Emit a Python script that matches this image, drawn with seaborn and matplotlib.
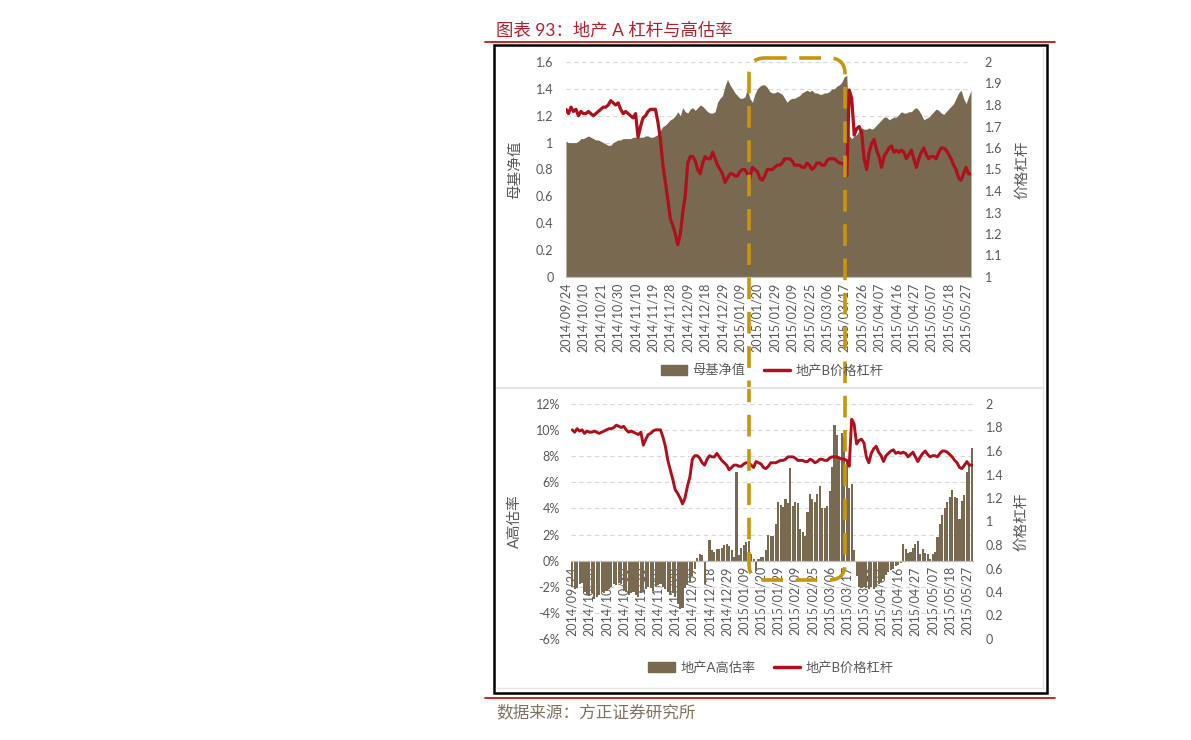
import pandas as pd
import seaborn as sns
import matplotlib.pyplot as plt
from matplotlib.patches import FancyBboxPatch, Rectangle, Patch
from matplotlib.lines import Line2D

# category labels (every 7th trading day is labelled)
date_labels = ['2014/09/24', '2014/10/10', '2014/10/21', '2014/10/30', '2014/11/10', '2014/11/19',
               '2014/11/28', '2014/12/09', '2014/12/18', '2014/12/29', '2015/01/09', '2015/01/20',
               '2015/01/29', '2015/02/09', '2015/02/25', '2015/03/06', '2015/03/17', '2015/03/26',
               '2015/04/07', '2015/04/16', '2015/04/27', '2015/05/07', '2015/05/18', '2015/05/27']
label_step = 7

# 母基净值
nav = [1.01, 1.00, 1.00, 1.00, 1.00, 1.01, 1.03, 1.03, 1.04, 1.05,
       1.04, 1.03, 1.02, 1.02, 1.01, 1.00, 0.99, 0.98, 0.98, 1.00,
       1.01, 1.02, 1.02, 1.03, 1.03, 1.03, 1.03, 1.04, 1.04, 1.04,
       1.04, 1.04, 1.05, 1.05, 1.04, 1.04, 1.05, 1.06, 1.09, 1.12,
       1.13, 1.15, 1.17, 1.18, 1.20, 1.23, 1.20, 1.26, 1.23, 1.22,
       1.25, 1.26, 1.24, 1.26, 1.28, 1.27, 1.25, 1.23, 1.22, 1.22,
       1.23, 1.30, 1.33, 1.35, 1.42, 1.47, 1.43, 1.40, 1.37, 1.35,
       1.33, 1.33, 1.34, 1.40, 1.33, 1.30, 1.36, 1.40, 1.42, 1.43,
       1.43, 1.41, 1.38, 1.37, 1.37, 1.38, 1.37, 1.36, 1.33, 1.30,
       1.32, 1.33, 1.33, 1.34, 1.35, 1.37, 1.38, 1.39, 1.38, 1.39,
       1.37, 1.37, 1.36, 1.36, 1.37, 1.37, 1.38, 1.40, 1.40, 1.42,
       1.43, 1.45, 1.49, 1.50, 1.05, 1.03, 1.05, 1.06, 1.09, 1.11,
       1.10, 1.10, 1.11, 1.10, 1.11, 1.13, 1.15, 1.17, 1.19, 1.19,
       1.17, 1.18, 1.19, 1.19, 1.21, 1.23, 1.22, 1.22, 1.23, 1.23,
       1.25, 1.26, 1.24, 1.21, 1.17, 1.18, 1.19, 1.21, 1.23, 1.25,
       1.24, 1.22, 1.21, 1.23, 1.25, 1.27, 1.29, 1.33, 1.37, 1.39,
       1.33, 1.29, 1.34, 1.39]

# 地产B价格杠杆
lev_b = [1.78, 1.76, 1.79, 1.77, 1.78, 1.75, 1.77, 1.76, 1.76, 1.77,
         1.76, 1.75, 1.76, 1.77, 1.78, 1.79, 1.79, 1.80, 1.82, 1.81,
         1.80, 1.81, 1.78, 1.76, 1.77, 1.76, 1.75, 1.74, 1.76, 1.65,
         1.70, 1.74, 1.75, 1.77, 1.78, 1.78, 1.78, 1.72, 1.64, 1.52,
         1.44, 1.36, 1.27, 1.24, 1.20, 1.15, 1.20, 1.30, 1.38, 1.53,
         1.56, 1.56, 1.54, 1.50, 1.48, 1.53, 1.56, 1.55, 1.55, 1.58,
         1.55, 1.52, 1.50, 1.48, 1.44, 1.46, 1.48, 1.48, 1.47, 1.47,
         1.49, 1.50, 1.50, 1.48, 1.46, 1.51, 1.50, 1.49, 1.46, 1.45,
         1.47, 1.50, 1.50, 1.50, 1.51, 1.52, 1.52, 1.53, 1.55, 1.55,
         1.55, 1.54, 1.52, 1.52, 1.52, 1.51, 1.51, 1.53, 1.52, 1.50,
         1.51, 1.53, 1.53, 1.52, 1.52, 1.54, 1.55, 1.55, 1.55, 1.54,
         1.53, 1.53, 1.52, 1.47, 1.87, 1.83, 1.66, 1.69, 1.70, 1.67,
         1.55, 1.50, 1.58, 1.62, 1.64, 1.59, 1.56, 1.51, 1.56, 1.58,
         1.60, 1.61, 1.58, 1.59, 1.58, 1.59, 1.58, 1.55, 1.57, 1.59,
         1.55, 1.51, 1.55, 1.58, 1.60, 1.57, 1.55, 1.56, 1.56, 1.55,
         1.58, 1.60, 1.60, 1.59, 1.57, 1.55, 1.52, 1.50, 1.46, 1.45,
         1.48, 1.51, 1.48, 1.48]

# 地产A高估率 (%)
a_rate = [-2.0, -2.2, -2.1, -1.8, -1.7, -2.4, -2.6, -2.7, -2.5, -2.9,
          -2.8, -2.6, -2.4, -2.5, -2.3, -2.2, -2.0, -1.8, -1.9, -1.7,
          -1.8, -2.3, -2.4, -2.6, -2.5, -2.4, -2.6, -2.8, -2.5, -2.4,
          -2.2, -2.0, -2.1, -2.3, -2.0, -1.9, -1.8, -2.0, -2.2, -2.4,
          -2.6, -2.5, -2.8, -3.3, -3.7, -3.6, -2.1, -1.9, -1.6, -1.2,
          -0.6, 0.2, 0.5, 0.4, -1.8, 0.0, 1.6, 0.8, 0.7, 0.9,
          0.9, 1.0, 1.2, 1.3, 1.1, 0.8, 0.3, 6.8, 0.4, 1.0,
          1.2, 1.4, 1.5, 0.5, 0.1, -0.8, 0.1, 0.3, 0.3, 0.8,
          2.0, 1.9, 1.9, 2.8, 4.5, 4.3, 4.1, 4.7, 4.4, 7.1,
          4.2, 4.5, 4.4, 2.4, 2.2, 1.9, 3.7, 5.1, 4.7, 4.5,
          5.1, 5.7, 4.0, 4.0, 4.2, 5.3, 7.2, 10.4, 9.6, 7.8,
          9.8, 9.5, 7.6, 5.6, 5.9, 0.8, -1.2, -2.0, -2.1, -2.0,
          -2.1, -2.2, -2.0, -2.2, -2.0, -1.8, -1.6, -1.4, -1.1, -0.9,
          -0.7, -0.6, -0.4, -0.3, -0.2, 1.3, 0.9, 0.6, 0.7, 1.0,
          1.3, 1.5, 0.5, 0.9, 0.6, 0.5, 0.1, 0.5, 0.7, 1.8,
          2.8, 3.5, 4.0, 4.5, 4.9, 5.4, 4.9, 4.8, 3.2, 4.6,
          5.0, 6.8, 7.3, 8.6]

top_left_ticks = [0, 0.2, 0.4, 0.6, 0.8, 1, 1.2, 1.4, 1.6]
top_left_labels = ['0', '0.2', '0.4', '0.6', '0.8', '1', '1.2', '1.4', '1.6']
top_right_ticks = [1, 1.1, 1.2, 1.3, 1.4, 1.5, 1.6, 1.7, 1.8, 1.9, 2]
top_right_labels = ['1', '1.1', '1.2', '1.3', '1.4', '1.5', '1.6', '1.7', '1.8', '1.9', '2']
bot_left_ticks = [-6, -4, -2, 0, 2, 4, 6, 8, 10, 12]
bot_left_labels = ['-6%', '-4%', '-2%', '0%', '2%', '4%', '6%', '8%', '10%', '12%']
bot_right_ticks = [0, 0.2, 0.4, 0.6, 0.8, 1, 1.2, 1.4, 1.6, 1.8, 2]
bot_right_labels = ['0', '0.2', '0.4', '0.6', '0.8', '1', '1.2', '1.4', '1.6', '1.8', '2']

BROWN = '#786950'
RED = '#B0101C'
GOLD = '#C8960C'
GREY = '#595959'
GRID = '#D9D9D9'

sns.set_theme(style='white')
plt.rcParams['font.family'] = ['Lato', 'Noto Sans CJK SC', 'DejaVu Sans']
plt.rcParams['axes.unicode_minus'] = False

df = pd.DataFrame({'idx': range(len(nav)), 'nav': nav, 'lev': lev_b, 'arate': a_rate})
n = len(df)
tick_pos = list(range(0, n, label_step))[:len(date_labels)]

W, H = 1191, 740
fig = plt.figure(figsize=(W / 100, H / 100), dpi=100)


def style_axes(ax, ax_r, pad_l, pad_r):
    for a in (ax, ax_r):
        for s in a.spines.values():
            s.set_visible(False)
    ax.spines['bottom'].set_visible(True)
    ax.spines['bottom'].set_color('#BFBFBF')
    ax.spines['bottom'].set_linewidth(0.9)
    ax.tick_params(axis='y', length=0, labelsize=9, labelcolor=GREY, pad=pad_l)
    ax.tick_params(axis='x', length=0, labelsize=9, labelcolor=GREY, pad=4, rotation=90)
    ax_r.tick_params(axis='y', length=0, labelsize=9, labelcolor=GREY, pad=pad_r)
    ax.set_axisbelow(True)
    ax.yaxis.grid(True, linestyle=(0, (4, 3)), color=GRID, linewidth=0.8)
    ax.xaxis.grid(False)
    ax_r.grid(False)
    ax.set_xlabel('')
    ax_r.set_xlabel('')


# top chart: fund NAV area + B leverage line
ax1 = fig.add_axes([566 / W, 1 - 277 / H, 405 / W, 215 / H])
ax1.fill_between(df['idx'], df['nav'], 0, color=BROWN, linewidth=0, zorder=2)
ax1.set_ylim(0, 1.6)
ax1.set_yticks(top_left_ticks, top_left_labels)
ax1r = ax1.twinx()
sns.lineplot(data=df, x='idx', y='lev', ax=ax1r, color=RED, linewidth=2.3)
ax1r.set_ylim(1, 2)
ax1r.set_yticks(top_right_ticks, top_right_labels)
ax1.set_xlim(0, n - 1)
ax1.set_xticks(tick_pos, date_labels)
style_axes(ax1, ax1r, 9, 10)
ax1.set_ylabel('母基净值', fontsize=10.5, color=GREY)
ax1.yaxis.set_label_coords(-0.109, 0.5)
ax1r.set_ylabel('价格杠杆', fontsize=10.5, color=GREY, rotation=90)
ax1r.yaxis.set_label_coords(1.109, 0.5)

# bottom chart: A over-valuation bars + B leverage line
ax2 = fig.add_axes([571 / W, 1 - 639 / H, 402 / W, 235 / H])
sns.barplot(data=df, x='idx', y='arate', ax=ax2, color=BROWN, saturation=1,
            width=0.86, linewidth=0, zorder=2)
ax2.set_ylim(-6, 12)
ax2.set_yticks(bot_left_ticks, bot_left_labels)
ax2r = ax2.twinx()
sns.lineplot(data=df, x='idx', y='lev', ax=ax2r, color=RED, linewidth=2.1)
ax2r.set_ylim(0, 2)
ax2r.set_yticks(bot_right_ticks, bot_right_labels)
ax2.set_xlim(-0.5, n - 0.5)
ax2.set_xticks(tick_pos, date_labels)
style_axes(ax2, ax2r, 8, 9)
ax2.spines['bottom'].set_position(('data', 0))
ax2.set_ylabel('A高估率', fontsize=10.5, color=GREY)
ax2.yaxis.set_label_coords(-0.122, 0.5)
ax2r.set_ylabel('价格杠杆', fontsize=10.5, color=GREY, rotation=90)
ax2r.yaxis.set_label_coords(1.104, 0.5)

# legends
legend_kw = dict(loc='center', ncol=2, frameon=False, fontsize=9.5, labelcolor=GREY,
                 handlelength=2.0, handleheight=0.8, handletextpad=0.4, columnspacing=1.4)
fig.legend(handles=[Patch(color=BROWN), Line2D([], [], color=RED, linewidth=2.5)],
           labels=['母基净值', '地产B价格杠杆'], bbox_to_anchor=(772 / W, 1 - 370 / H), **legend_kw)
fig.legend(handles=[Patch(color=BROWN), Line2D([], [], color=RED, linewidth=2.5)],
           labels=['地产A高估率', '地产B价格杠杆'], bbox_to_anchor=(771 / W, 1 - 667 / H), **legend_kw)

# page decorations in pixel space
deco = fig.add_axes([0, 0, 1, 1])
deco.set_xlim(0, W)
deco.set_ylim(H, 0)
deco.axis('off')
deco.text(496, 30, '图表 93：地产 A 杠杆与高估率', color='#B5202C', fontsize=12.5, va='center', ha='left')
deco.plot([485, 1055], [42, 42], color='#C00000', linewidth=1.2)
deco.plot([485, 1055], [698, 698], color='#C00000', linewidth=1.2)
deco.add_patch(Rectangle((494, 45), 553, 648, fill=False, edgecolor='black', linewidth=1.8))
deco.plot([497, 1044], [388, 388], color='#E3E3E3', linewidth=1.5)
deco.plot([497, 1044], [688, 688], color='#E3E3E3', linewidth=1.0)
deco.plot([1043, 1043], [48, 688], color='#E3E3E3', linewidth=1.0)
deco.add_patch(FancyBboxPatch((749, 58), 96, 522, boxstyle='round,pad=0,rounding_size=16',
                              fill=False, edgecolor=GOLD, linewidth=2.6, linestyle=(0, (6, 3.5))))
deco.text(496, 712, '数据来源：方正证券研究所', color='#7F7262', fontsize=12, va='center', ha='left')

fig.savefig('out.png', dpi=100)
